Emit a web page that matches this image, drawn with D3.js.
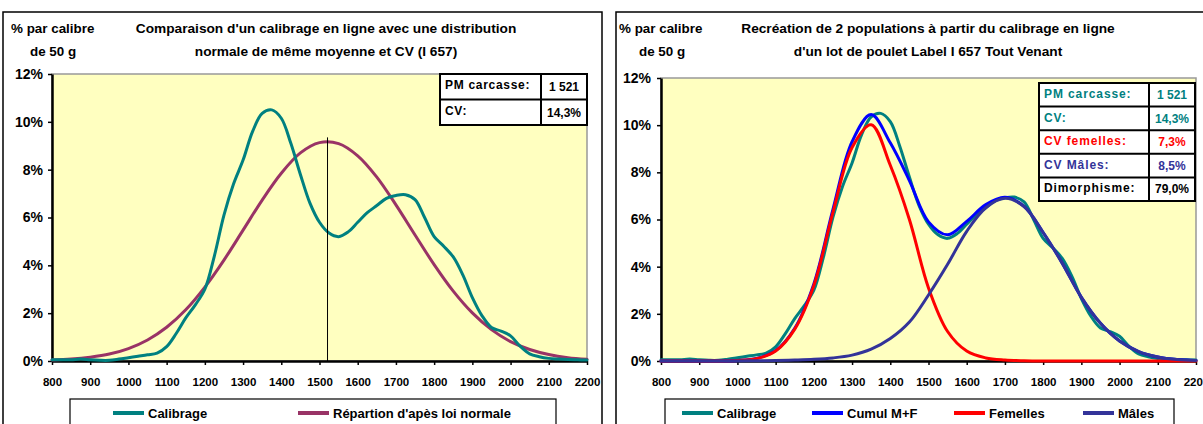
<!DOCTYPE html>
<html><head><meta charset="utf-8">
<script src="https://cdn.jsdelivr.net/npm/d3@7"></script>
<style>
html,body{margin:0;padding:0;background:#fff;}
svg text{font-family:"Liberation Sans",Arial,sans-serif;font-weight:bold;}
</style></head>
<body><svg id="c" width="1203" height="424"></svg>
<script>
// ---------- data ----------
const grams25 = d3.range(800, 2201, 25);
const grams50 = d3.range(800, 2201, 50);
const xTicks = d3.range(800, 2201, 100);
const yTicks = [0, 2, 4, 6, 8, 10, 12];

const calibrage = [0.05,0.05,0.05,0.08,0.05,0.03,0.03,0.08,0.14,0.2,0.26,0.33,0.6,1.15,1.8,2.35,3.0,4.4,6.1,7.4,8.4,9.6,10.35,10.5,10.15,9.1,7.8,6.6,5.8,5.35,5.2,5.4,5.8,6.2,6.5,6.8,6.92,6.95,6.75,6.0,5.2,4.8,4.35,3.6,2.65,1.9,1.4,1.25,1.05,0.62,0.3,0.18,0.11,0.08,0.06,0.05,0.04];
const normale = [0.04,0.08,0.16,0.29,0.52,0.88,1.41,2.14,3.09,4.22,5.47,6.73,7.85,8.70,9.13,9.09,8.58,7.69,6.53,5.27,4.03,2.92,2.01,1.31,0.81,0.48,0.27,0.14,0.07];
const femelles = [0,0,0,0,0.02,0.1,0.42,1.35,3.2,6.3,9.05,10.02,8.3,6.0,3.1,1.25,0.42,0.13,0.04,0.01,0,0,0,0,0,0,0,0,0];
const males = [0,0,0,0,0,0.01,0.02,0.04,0.07,0.13,0.25,0.5,0.95,1.65,2.8,4.1,5.5,6.5,6.9,6.55,5.45,4.15,2.7,1.6,0.85,0.4,0.17,0.06,0.02];
const cumul = [0,0,0,0,0.02,0.11,0.44,1.39,3.27,6.43,9.3,10.45,9.25,7.65,5.9,5.35,5.92,6.63,6.94,6.56,5.45,4.15,2.7,1.6,0.85,0.4,0.17,0.06,0.02];
const moyenne = 1521;
const moyenneTop = 9.35;

const titleLeft = ["Comparaison d'un calibrage en ligne avec une distribution", "normale de même moyenne et CV (I 657)"];
const titleRight = ["Recréation de 2 populations à partir du calibrage en ligne", "d'un lot de poulet Label  I 657 Tout Venant"];
const yTitle = ["% par calibre", "de 50 g"];
const tableLeft = [["PM carcasse:", "1 521"], ["CV:", "14,3%"]];
const tableRight = [["PM carcasse:", "1 521"], ["CV:", "14,3%"], ["CV femelles:", "7,3%"], ["CV Mâles:", "8,5%"], ["Dimorphisme:", "79,0%"]];
const legendLeft = ["Calibrage", "Répartion d'apès loi normale"];
const legendRight = ["Calibrage", "Cumul M+F", "Femelles", "Mâles"];

// ---------- styles ----------
const C = {teal:"#008080", purple:"#993366", blue:"#0000FF", red:"#FF0000", navy:"#333399", bg:"#FFFFC0", black:"#000"};

const svg = d3.select("#c");

function panel(o) {
  const g = svg.append("g");
  g.append("rect").attr("x", o.bx).attr("y", o.by).attr("width", o.bw).attr("height", 440)
    .attr("fill", "#fff").attr("stroke", "#000").attr("stroke-width", 1.5);
  const x = d3.scaleLinear().domain([800, 2200]).range([o.x0, o.x1]);
  const y = d3.scaleLinear().domain([0, 12]).range([o.y0, o.y1]);
  g.append("rect").attr("x", o.x0).attr("y", o.y1).attr("width", o.x1 - o.x0).attr("height", o.y0 - o.y1)
    .attr("fill", C.bg).attr("stroke", "#999").attr("stroke-width", 1.5);
  const xa = g.append("g").attr("transform", `translate(0,${o.y0})`)
    .call(d3.axisBottom(x).tickValues(xTicks).tickSize(4).tickSizeOuter(0).tickFormat(d3.format("d")));
  const ya = g.append("g").attr("transform", `translate(${o.x0},0)`)
    .call(d3.axisLeft(y).tickValues(yTicks).tickSize(4).tickSizeOuter(0).tickFormat(d => d + "%"));
  [xa, ya].forEach(a => {
    a.select(".domain").attr("stroke", "#000").attr("stroke-width", 2.5);
    a.selectAll(".tick line").attr("stroke", "#000").attr("stroke-width", 1.5);
    a.selectAll("text").attr("fill", "#000").style("font-family", '"Liberation Sans",Arial,sans-serif').style("font-weight", "bold");
  });
  xa.selectAll("text").attr("font-size", 11.5).attr("dy", "0.71em").attr("y", 17);
  ya.selectAll("text").attr("font-size", 14).attr("x", o.ylx);
  const tt = g.append("text").attr("font-size", 13.7).attr("text-anchor", "middle");
  o.title.forEach((t, i) => tt.append("tspan").attr("x", o.tcx).attr("y", 33 + i * 23).text(t));
  g.append("text").attr("font-size", 13.4).attr("x", o.yt1).attr("y", 33).text(yTitle[0]);
  g.append("text").attr("font-size", 13.4).attr("x", o.yt2).attr("y", 56).text(yTitle[1]);
  return {g, x, y};
}

function drawLine(p, xs, vals, color) {
  const line = d3.line().x((d, i) => p.x(xs[i])).y(d => p.y(d)).curve(d3.curveCatmullRom.alpha(0.5));
  p.g.append("path").attr("d", line(vals)).attr("fill", "none").attr("stroke", color)
    .attr("stroke-width", 3).attr("stroke-linejoin", "round").attr("stroke-linecap", "round");
}

function table(p, rows, x0, y0, cw, w, rh, colors, spacing, dyVal) {
  const g = p.g.append("g");
  g.append("rect").attr("x", x0).attr("y", y0).attr("width", w).attr("height", rh * rows.length)
    .attr("fill", "#fff").attr("stroke", "#000").attr("stroke-width", 2);
  g.append("line").attr("x1", x0 + cw).attr("x2", x0 + cw).attr("y1", y0).attr("y2", y0 + rh * rows.length)
    .attr("stroke", "#000").attr("stroke-width", 2);
  rows.forEach((r, i) => {
    if (i > 0) g.append("line").attr("x1", x0).attr("x2", x0 + w).attr("y1", y0 + rh * i).attr("y2", y0 + rh * i)
      .attr("stroke", "#000").attr("stroke-width", 2);
    g.append("text").attr("x", x0 + 5).attr("y", y0 + rh * i + 15).attr("font-size", 12)
      .attr("letter-spacing", spacing).attr("fill", colors[i]).text(r[0]);
    g.append("text").attr("x", x0 + cw + (w - cw) / 2).attr("y", y0 + rh * i + dyVal).attr("font-size", 12)
      .attr("text-anchor", "middle").attr("fill", colors[i]).text(r[1]);
  });
}

function legend(p, items, colors, x0, x1, lineXs) {
  const g = p.g.append("g");
  g.append("rect").attr("x", x0).attr("y", 399).attr("width", x1 - x0).attr("height", 40)
    .attr("fill", "#fff").attr("stroke", "#000").attr("stroke-width", 1.2);
  items.forEach((t, i) => {
    g.append("line").attr("x1", lineXs[i]).attr("x2", lineXs[i] + 31).attr("y1", 413).attr("y2", 413)
      .attr("stroke", colors[i]).attr("stroke-width", 4);
    g.append("text").attr("x", lineXs[i] + 35).attr("y", 417.5).attr("font-size", 13).text(t);
  });
}

// ---------- left chart ----------
const L = panel({bx: 3, by: 12, bw: 599, x0: 52, x1: 587, y0: 361, y1: 74, tcx: 326, title: titleLeft, ylx: -9, yt1: 11, yt2: 30});
drawLine(L, grams50, normale, C.purple);
drawLine(L, grams25, calibrage, C.teal);
L.g.append("line").attr("x1", L.x(moyenne)).attr("x2", L.x(moyenne)).attr("y1", L.y(0)).attr("y2", L.y(moyenneTop))
  .attr("stroke", "#000").attr("stroke-width", 1);
table(L, tableLeft, 440, 74, 101, 147, 25.5, ["#000", "#000"], 0.7, 17);
legend(L, legendLeft, [C.teal, C.purple], 70, 556, [113, 298]);

// ---------- right chart ----------
const R = panel({bx: 616, by: 12, bw: 620, x0: 661, x1: 1196, y0: 361, y1: 78, tcx: 928, title: titleRight, ylx: -10, yt1: 619, yt2: 639});
drawLine(R, grams25, calibrage, C.teal);
drawLine(R, grams50, cumul, C.blue);
drawLine(R, grams50, femelles, C.red);
drawLine(R, grams50, males, C.navy);
table(R, tableRight, 1039, 83, 110, 156, 23.6, [C.teal, C.teal, C.red, C.navy, "#000"], 0.9, 16);
legend(R, legendRight, [C.teal, C.blue, C.red, C.navy], 665, 1174, [682, 812, 954, 1083]);
</script></body></html>
